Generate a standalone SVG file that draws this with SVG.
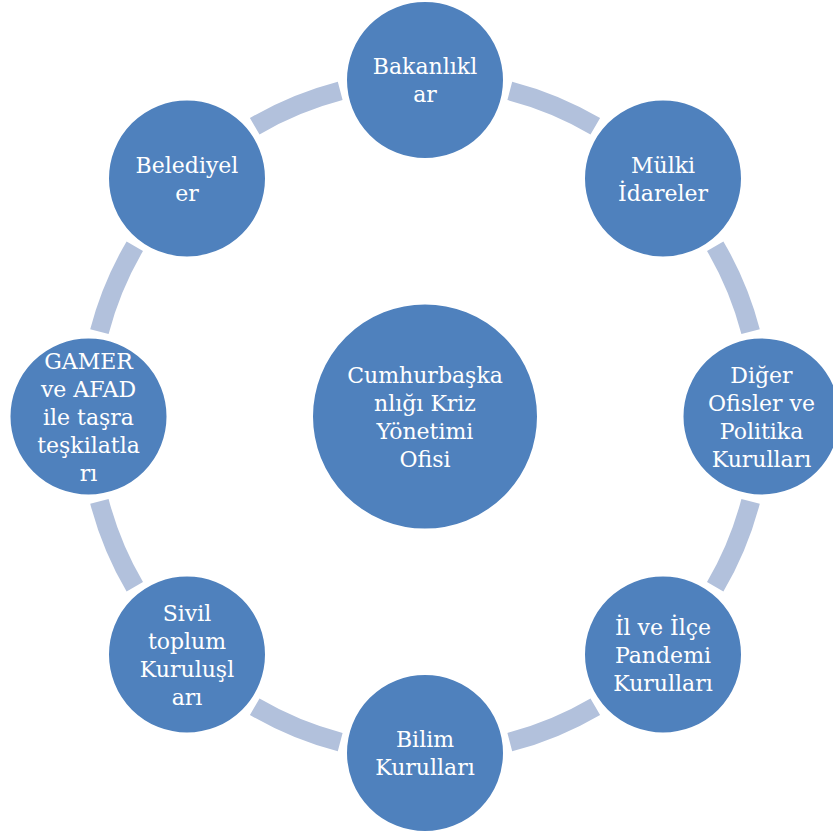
<svg xmlns="http://www.w3.org/2000/svg" width="833" height="837" viewBox="0 0 833 837">
<style>
.arc{fill:none;stroke:#B2C1DC;stroke-width:19;stroke-linecap:butt}
.node circle{fill:#4F81BD;stroke:#FFFFFF;stroke-width:2}
.node text{fill:#FFFFFF;font-family:"DejaVu Serif","Liberation Serif",serif;font-size:22px;text-anchor:middle}
</style>
<rect width="833" height="837" fill="#FFFFFF"/>
<g id="connectors">
<path class="arc" d="M509.8 90.9 A336.5 336.5 0 0 1 595.3 126.3"/>
<path class="arc" d="M715.2 246.2 A336.5 336.5 0 0 1 750.6 331.7"/>
<path class="arc" d="M750.6 501.3 A336.5 336.5 0 0 1 715.2 586.8"/>
<path class="arc" d="M595.3 706.7 A336.5 336.5 0 0 1 509.8 742.1"/>
<path class="arc" d="M340.2 742.1 A336.5 336.5 0 0 1 254.7 706.7"/>
<path class="arc" d="M134.8 586.8 A336.5 336.5 0 0 1 99.4 501.3"/>
<path class="arc" d="M99.4 331.7 A336.5 336.5 0 0 1 134.8 246.2"/>
<path class="arc" d="M254.7 126.3 A336.5 336.5 0 0 1 340.2 90.9"/>
</g>
<g id="center" class="node">
<circle cx="425" cy="416.5" r="113"/>
<text x="425" y="382.5">Cumhurbaşka</text>
<text x="425" y="410.5">nlığı Kriz</text>
<text x="425" y="438.5">Yönetimi</text>
<text x="425" y="466.5">Ofisi</text>
</g>
<g id="bakanliklar" class="node">
<circle cx="425" cy="80" r="79"/>
<text x="425" y="74">Bakanlıkl</text>
<text x="425" y="102">ar</text>
</g>
<g id="mulki" class="node">
<circle cx="663" cy="178.5" r="79"/>
<text x="663" y="172.5">Mülki</text>
<text x="663" y="200.5">İdareler</text>
</g>
<g id="diger" class="node">
<circle cx="761.5" cy="416.5" r="79"/>
<text x="761.5" y="382.5">Diğer</text>
<text x="761.5" y="410.5">Ofisler ve</text>
<text x="761.5" y="438.5">Politika</text>
<text x="761.5" y="466.5">Kurulları</text>
</g>
<g id="il-ilce" class="node">
<circle cx="663" cy="654.5" r="79"/>
<text x="663" y="634.5">İl ve İlçe</text>
<text x="663" y="662.5">Pandemi</text>
<text x="663" y="690.5">Kurulları</text>
</g>
<g id="bilim" class="node">
<circle cx="425" cy="753" r="79"/>
<text x="425" y="747">Bilim</text>
<text x="425" y="775">Kurulları</text>
</g>
<g id="sivil" class="node">
<circle cx="187" cy="654.5" r="79"/>
<text x="187" y="620.5">Sivil</text>
<text x="187" y="648.5">toplum</text>
<text x="187" y="676.5">Kuruluşl</text>
<text x="187" y="704.5">arı</text>
</g>
<g id="gamer" class="node">
<circle cx="88.5" cy="416.5" r="79"/>
<text x="88.5" y="368.5">GAMER</text>
<text x="88.5" y="396.5">ve AFAD</text>
<text x="88.5" y="424.5">ile taşra</text>
<text x="88.5" y="452.5">teşkilatla</text>
<text x="88.5" y="480.5">rı</text>
</g>
<g id="belediyeler" class="node">
<circle cx="187" cy="178.5" r="79"/>
<text x="187" y="172.5">Belediyel</text>
<text x="187" y="200.5">er</text>
</g>
</svg>
